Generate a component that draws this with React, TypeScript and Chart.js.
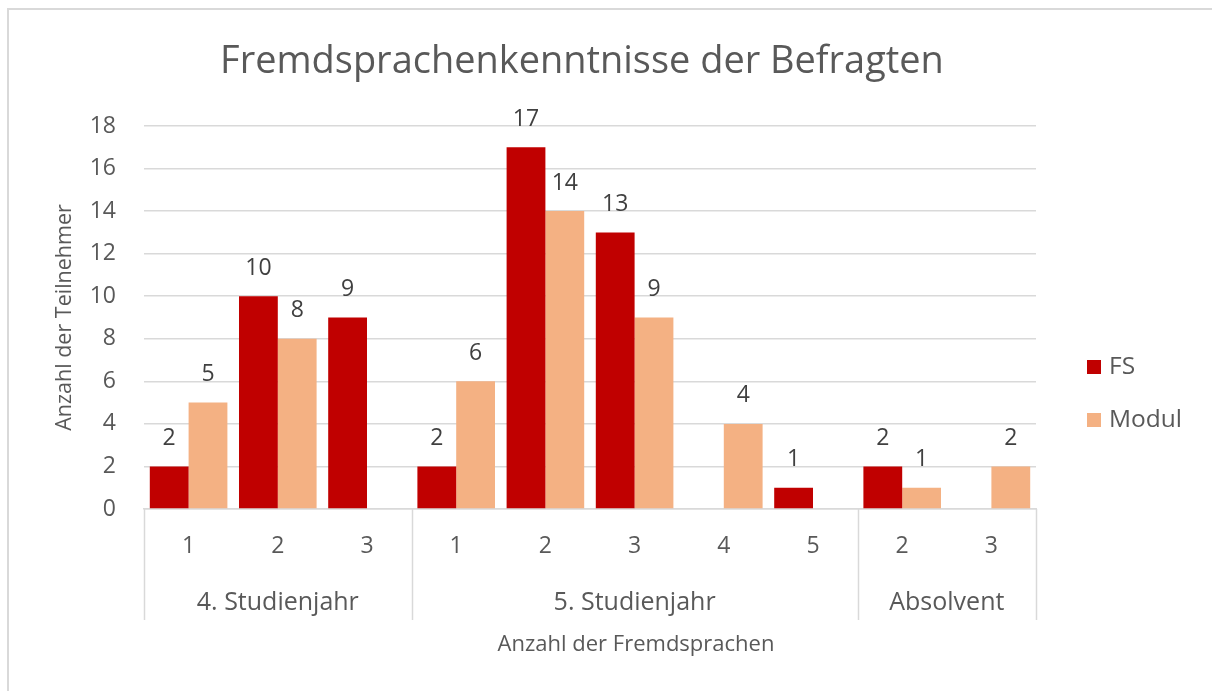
import React, { useEffect, useRef } from "react";
import { Chart, registerables } from "chart.js";

Chart.register(...registerables);

const TITLE = "Fremdsprachenkenntnisse der Befragten";
const Y_TITLE = "Anzahl der Teilnehmer";
const X_TITLE = "Anzahl der Fremdsprachen";
const categories = ["1", "2", "3", "1", "2", "3", "4", "5", "2", "3"];
const groups = ["4. Studienjahr", "5. Studienjahr", "Absolvent"];
const groupSizes = [3, 5, 2];
const fsValues = [2, 10, 9, 2, 17, 13, null, 1, 2, null];
const modulValues = [5, 8, null, 6, 14, 9, 4, null, 1, 2];
const seriesNames = ["FS", "Modul"];
const colors = ["#C00000", "#F4B183"];
const yTicks = [0, 2, 4, 6, 8, 10, 12, 14, 16, 18];

const FONT = "'Open Sans', 'DejaVu Sans', sans-serif";
const TEXT = "#595959";

const decorPlugin = {
  id: "decor",
  afterDraw(chart: any) {
    const ctx = chart.ctx;
    const area = chart.chartArea;
    const x = chart.scales.x;
    ctx.save();
    // outer border (top + left)
    ctx.strokeStyle = "#D9D9D9";
    ctx.lineWidth = 2;
    ctx.beginPath();
    ctx.moveTo(8, chart.height);
    ctx.lineTo(8, 9);
    ctx.lineTo(chart.width, 9);
    ctx.stroke();

    // title (fit to target width)
    let size = 36;
    ctx.font = `${size}px ${FONT}`;
    const w = ctx.measureText(TITLE).width;
    size = size * (724 / w);
    ctx.font = `${size}px ${FONT}`;
    ctx.fillStyle = TEXT;
    ctx.textAlign = "center";
    ctx.textBaseline = "middle";
    ctx.fillText(TITLE, 582, 62);

    // data labels
    ctx.font = `23px ${FONT}`;
    ctx.fillStyle = "#404040";
    chart.data.datasets.forEach((ds: any, di: number) => {
      const meta = chart.getDatasetMeta(di);
      meta.data.forEach((bar: any, i: number) => {
        const v = ds.data[i];
        if (v === null || v === undefined) return;
        ctx.fillText(String(v), bar.x, bar.y - 28);
      });
    });

    // group separators and labels
    const catW = x.getPixelForValue(1) - x.getPixelForValue(0);
    ctx.strokeStyle = "#D9D9D9";
    ctx.lineWidth = 1.5;
    let start = 0;
    const bottom = area.bottom;
    const drawSep = (px: number) => {
      ctx.beginPath();
      ctx.moveTo(Math.round(px) + 0.5, bottom);
      ctx.lineTo(Math.round(px) + 0.5, 620);
      ctx.stroke();
    };
    drawSep(x.getPixelForValue(0) - catW / 2);
    ctx.fillStyle = TEXT;
    ctx.font = `25px ${FONT}`;
    groups.forEach((g, gi) => {
      const end = start + groupSizes[gi] - 1;
      const left = x.getPixelForValue(start) - catW / 2;
      const right = x.getPixelForValue(end) + catW / 2;
      drawSep(right);
      ctx.fillText(g, (left + right) / 2, 603);
      start = end + 1;
    });

    // axis titles
    ctx.font = `22px ${FONT}`;
    ctx.fillText(X_TITLE, 636, 645);
    ctx.save();
    ctx.translate(65, (area.top + area.bottom) / 2);
    ctx.rotate(-Math.PI / 2);
    ctx.font = `21.5px ${FONT}`;
    ctx.fillText(Y_TITLE, 0, 0);
    ctx.restore();

    // legend
    ctx.font = `24.5px ${FONT}`;
    ctx.textAlign = "left";
    const ly = [367, 420];
    seriesNames.forEach((n, i) => {
      ctx.fillStyle = colors[i];
      ctx.fillRect(1087, ly[i] - 7, 14, 14);
      ctx.fillStyle = TEXT;
      ctx.fillText(n, 1109, ly[i]);
    });
    ctx.restore();
  },
};

export default function App() {
  const ref = useRef<HTMLCanvasElement>(null);
  useEffect(() => {
    document.body.style.margin = "0";
    const chart = new Chart(ref.current as HTMLCanvasElement, {
      type: "bar",
      data: {
        labels: categories,
        datasets: [
          { label: seriesNames[0], data: fsValues as any, backgroundColor: colors[0] },
          { label: seriesNames[1], data: modulValues as any, backgroundColor: colors[1] },
        ],
      },
      options: {
        animation: false,
        responsive: false,
        datasets: { bar: { categoryPercentage: 0.87, barPercentage: 1 } },
        layout: { padding: { top: 126, left: 0, right: 176, bottom: 0 } },
        plugins: { legend: { display: false }, title: { display: false }, tooltip: { enabled: false } },
        scales: {
          x: {
            grid: { display: false, drawTicks: false },
            border: { display: true, color: "#D9D9D9", width: 1.5 },
            ticks: { color: TEXT, font: { family: FONT, size: 23 }, padding: 24, maxRotation: 0 },
            afterFit: (s: any) => { s.height = 182; },
          },
          y: {
            min: 0,
            max: 18,
            afterBuildTicks: (s: any) => { s.ticks = yTicks.map((v) => ({ value: v })); },
            grid: { color: "#D9D9D9", lineWidth: 1.5, drawTicks: false },
            border: { display: false },
            ticks: { color: TEXT, font: { family: FONT, size: 23 }, padding: 28 },
            afterFit: (s: any) => { s.width = 144; },
          },
        },
      },
      plugins: [decorPlugin],
    });
    return () => chart.destroy();
  }, []);
  return (
    <div style={{ position: "absolute", left: 0, top: 0, width: 1212, height: 691, background: "#fff" }}>
      <canvas ref={ref} width={1212} height={691} />
    </div>
  );
}
